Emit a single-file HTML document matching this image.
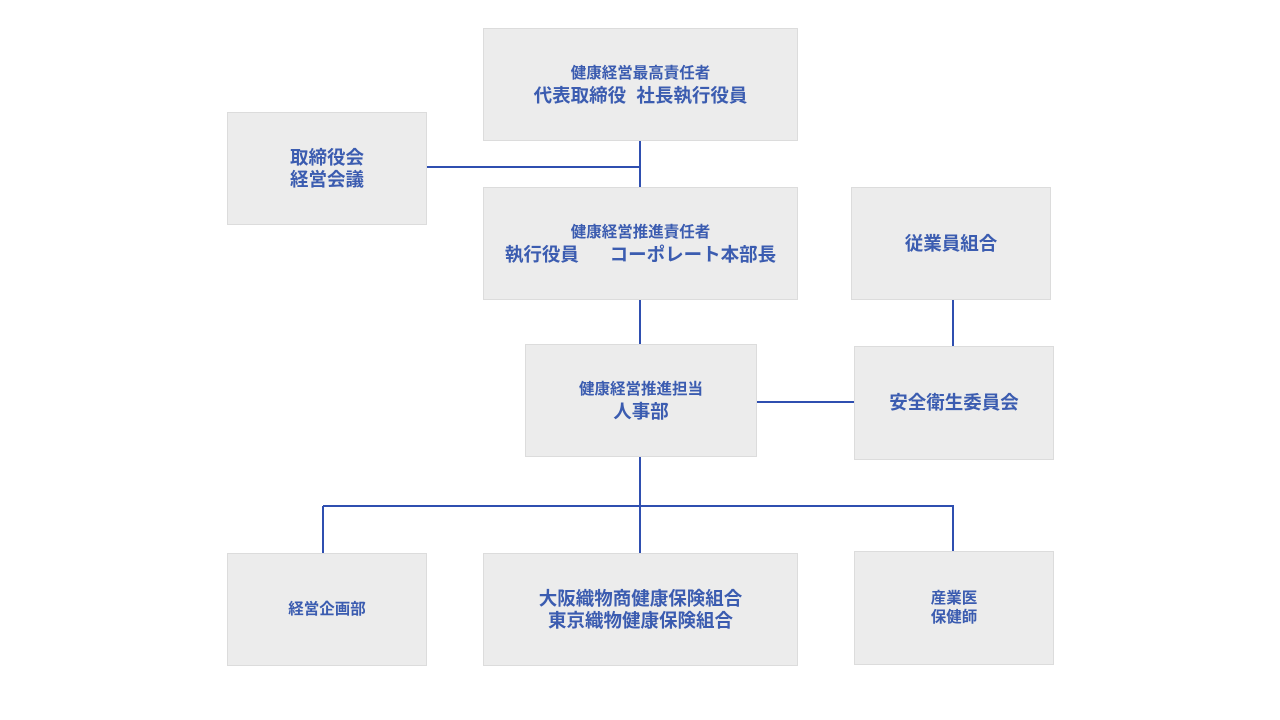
<!DOCTYPE html>
<html><head><meta charset="utf-8"><style>
body{margin:0;width:1280px;height:720px;background:#fff;position:relative;overflow:hidden;font-family:"Liberation Sans","Noto Sans CJK JP",sans-serif;font-weight:bold;color:#3b5cb0}
.b{position:absolute;background:#ececec;border:1px solid #dcdcdc;box-sizing:border-box;display:flex;flex-direction:column;align-items:center;justify-content:center;text-align:center;line-height:22px;white-space:nowrap}
.s{font-size:15.5px}.l{font-size:18.5px}
.h,.v{position:absolute;background:#2f4fb0}
.h{height:2px}.v{width:2px}
</style></head><body>
<div class="v" style="left:639px;top:140px;height:47px"></div>
<div class="h" style="left:426px;top:166px;width:214px"></div>
<div class="v" style="left:639px;top:299px;height:45px"></div>
<div class="v" style="left:639px;top:456px;height:97px"></div>
<div class="h" style="left:323px;top:505px;width:631px"></div>
<div class="v" style="left:322px;top:506px;height:47px"></div>
<div class="v" style="left:952px;top:506px;height:45px"></div>
<div class="v" style="left:952px;top:299px;height:47px"></div>
<div class="h" style="left:756px;top:401px;width:98px"></div>

<div class="b" style="left:483px;top:28px;width:315px;height:113px"><div class="s">健康経営最高責任者</div><div class="l">代表取締役&nbsp;&nbsp;社長執行役員</div></div>
<div class="b" style="left:227px;top:112px;width:200px;height:113px"><div class="l">取締役会</div><div class="l">経営会議</div></div>
<div class="b" style="left:483px;top:187px;width:315px;height:113px"><div class="s">健康経営推進責任者</div><div class="l">執行役員&nbsp;&nbsp;&nbsp;&nbsp;&nbsp;&nbsp;コーポレート本部長</div></div>
<div class="b" style="left:851px;top:187px;width:200px;height:113px"><div class="l">従業員組合</div></div>
<div class="b" style="left:525px;top:344px;width:232px;height:113px"><div class="s">健康経営推進担当</div><div class="l">人事部</div></div>
<div class="b" style="left:854px;top:346px;width:200px;height:114px"><div class="l">安全衛生委員会</div></div>
<div class="b" style="left:227px;top:553px;width:200px;height:113px"><div class="s">経営企画部</div></div>
<div class="b" style="left:483px;top:553px;width:315px;height:113px"><div class="l">大阪織物商健康保険組合</div><div class="l">東京織物健康保険組合</div></div>
<div class="b" style="left:854px;top:551px;width:200px;height:114px;line-height:19px"><div class="s">産業医</div><div class="s">保健師</div></div>
</body></html>
